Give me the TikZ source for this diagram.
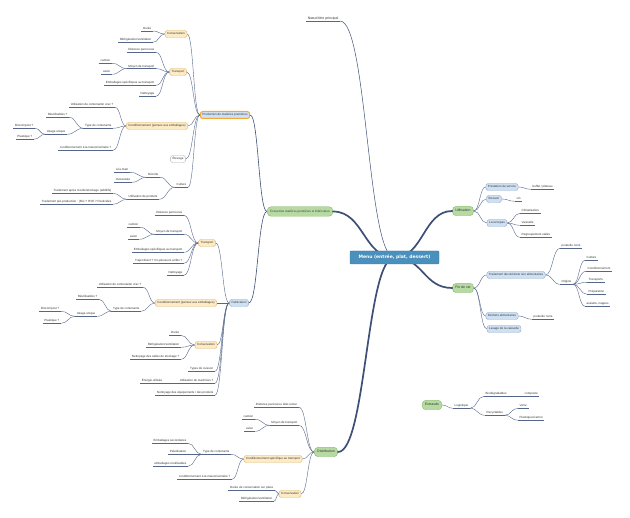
\documentclass[tikz,border=0pt]{standalone}
\usepackage{fontspec}
\setmainfont{Liberation Sans}
\newfontfamily\mmserif{Liberation Serif}
\newfontfamily\mmbold{DejaVu Sans}
\usetikzlibrary{calc}
\definecolor{cnc}{HTML}{56668A}
\definecolor{thk}{HTML}{3E5075}
\definecolor{bluefill}{HTML}{CFE0F3}
\definecolor{blueline}{HTML}{8FAACB}
\definecolor{orfill}{HTML}{FCEBC4}
\definecolor{orline}{HTML}{DDB56B}
\definecolor{grfill}{HTML}{B7DAA3}
\definecolor{grline}{HTML}{86BB6E}
\definecolor{cfill}{HTML}{4A90BC}
\definecolor{cline}{HTML}{3A7AA3}
\definecolor{selor}{HTML}{F2A93B}
\definecolor{txt}{HTML}{333333}
\tikzset{
  base/.style={font=\fontsize{3}{3.6}\selectfont, text=txt},
  uline/.style={draw=cnc, line width=0.35pt},
  leaf/.style={base, inner xsep=1.5pt, inner ysep=0.6pt, text height=2.2pt, text depth=0.7pt,
    append after command={(\tikzlastnode.south west) edge[uline] (\tikzlastnode.south east)}},
  cnline/.style={draw=cnc, line width=0.4pt},
  bluebox/.style={base, draw=blueline, fill=bluefill, rounded corners=2.5pt, line width=0.4pt,
    inner xsep=2.2pt, inner ysep=0pt, minimum height=7pt, text height=2.2pt, text depth=0.7pt},
  orbox/.style={bluebox, draw=orline, fill=orfill},
  grbox/.style={base, font=\fontsize{3.5}{4}\selectfont, draw=grline, fill=grfill, rounded corners=4pt,
    line width=0.4pt, inner xsep=3pt, inner ysep=0pt, minimum height=9.5pt, text height=2.5pt, text depth=0.8pt},
  mainline/.style={draw=thk, line width=1.7pt, line cap=round},
}
\newcommand\mmleafL[4]{\node[leaf,anchor=south east] (#1) at (#2,#3) {#4};}
\newcommand\mmleafR[4]{\node[leaf,anchor=south west] (#1) at (#2,#3) {#4};}
\newcommand\mmconn[3][]{\draw[cnline,#1] let \p1=(#2), \p2=(#3) in (\p1) .. controls ({(\x1+\x2)/2},\y1) and ({(\x1+\x2)/2},\y2) .. (\p2);}
\begin{document}
\begin{tikzpicture}[x=1pt,y=-1pt]
\fill[white] (0,0) rectangle (630,518);
\useasboundingbox (0,0) rectangle (630,518);

% ---------- title
\node[leaf,anchor=south east,font=\fontsize{3.5}{4}\selectfont] (title) at (340,21) {Nœud titre principal};

% ---------- Extraction
\node[grbox, font=\mmserif\fontsize{3.4}{4}\selectfont] (extr) at (300,211.5) {Extraction matières premières et fabrication};

% ---------- Production
\node[bluebox, draw=selor, line width=1pt] (prod) at (225,115) {Production de matières premières};
\node[orbox] (cons1) at (176,34) {Conservation};
\mmleafL{dur1}{153}{31}{Durée}
\mmleafL{ref1}{153}{42.3}{Réfrigération/ventilation}
\node[orbox] (trans1) at (178,72) {Transport};
\mmleafL{dist1}{156}{52.3}{Distance parcourue}
\mmleafL{moy1}{156}{68.6}{Moyen de transport}
\mmleafL{cam1}{112}{63.3}{camion}
\mmleafL{avi1}{112}{74.3}{avion}
\mmleafL{emb1}{156}{85.3}{Emballages spécifiques au transport}
\mmleafL{net1}{156}{96.3}{Nettoyage}
\node[orbox] (cond1) at (157,126) {Conditionnement (pensez aux emballages)};
\mmleafL{vrac1}{115}{107.3}{Utilisation de contenants/ vrac ?}
\mmleafL{typ1}{113}{128.3}{Type de contenants}
\mmleafL{reu1}{69}{117.3}{Réutilisables ?}
\mmleafL{usa1}{67}{134.3}{Usage unique}
\mmleafL{bio1}{35}{128.3}{Biocompost ?}
\mmleafL{pla1}{34}{139.3}{Plastique ?}
\mmleafL{mai1}{113}{150.3}{conditionnement à la maison/unitaire ?}
\node[bluebox, fill=white, draw=gray!60] (elev) at (178,159) {Élevage};
\mmleafL{cul}{188}{187.3}{Culture}
\mmleafL{rec}{160}{177.3}{Récolte}
\mmleafL{amain}{130}{172.3}{à la main}
\mmleafL{mec}{132}{182.3}{mécanisée}
\mmleafL{upr}{159}{199.3}{Utilisation de produits}
\mmleafL{tra1}{113}{193.3}{Traitement après récolte/stockage (additifs)}
\mmleafL{tra2}{113}{204.3}{Traitement pré-production : (Bio ? HVE ? Pesticides}

\mmconn{prod.west}{cons1.east}
\mmconn{prod.west}{trans1.east}
\mmconn{prod.west}{cond1.east}
\mmconn{prod.west}{elev.east}
\mmconn{prod.west}{cul.south east}
\mmconn{cons1.west}{dur1.south east}
\mmconn{cons1.west}{ref1.south east}
\mmconn{trans1.west}{dist1.south east}
\mmconn{trans1.west}{moy1.south east}
\mmconn{trans1.west}{emb1.south east}
\mmconn{trans1.west}{net1.south east}
\mmconn{moy1.south west}{cam1.south east}
\mmconn{moy1.south west}{avi1.south east}
\mmconn{cond1.west}{vrac1.south east}
\mmconn{cond1.west}{typ1.south east}
\mmconn{cond1.west}{mai1.south east}
\mmconn{typ1.south west}{reu1.south east}
\mmconn{typ1.south west}{usa1.south east}
\mmconn{usa1.south west}{bio1.south east}
\mmconn{usa1.south west}{pla1.south east}
\mmconn{cul.south west}{rec.south east}
\mmconn{cul.south west}{upr.south east}
\mmconn{rec.south west}{amain.south east}
\mmconn{rec.south west}{mec.south east}
\mmconn{upr.south west}{tra1.south east}
\mmconn{upr.south west}{tra2.south east}

% ---------- Fabrication
\node[bluebox] (fab) at (239,303) {Fabrication};
\node[orbox] (trans2) at (207,243) {Transport};
\mmleafL{dist2}{184}{215.3}{Distance parcourue}
\mmleafL{moy2}{184}{234.3}{Moyen de transport}
\mmleafL{cam2}{140}{227.3}{camion}
\mmleafL{avi2}{139}{239.3}{avion}
\mmleafL{emb2}{184}{252.3}{Emballages spécifiques au transport}
\mmleafL{traj}{184}{263.3}{Trajet direct ? Ou plusieurs arrêts ?}
\mmleafL{net2}{184}{275.3}{Nettoyage}
\node[orbox] (cond2) at (186,303) {Conditionnement (pensez aux emballages)};
\mmleafL{vrac2}{143}{287.3}{Utilisation de contenants/ vrac ?}
\mmleafL{typ2}{141}{311.3}{Type de contenants}
\mmleafL{reu2}{99}{299.3}{Réutilisables ?}
\mmleafL{usa2}{97}{316.3}{Usage unique}
\mmleafL{bio2}{61}{311.3}{Biocompost ?}
\mmleafL{pla2}{61}{323.3}{Plastique ?}
\node[orbox] (cons2) at (206,345) {Conservation};
\mmleafL{dur2}{181}{335.3}{Durée}
\mmleafL{ref2}{181}{347.3}{Réfrigération/ventilation}
\mmleafL{netsal}{181}{359.3}{Nettoyage des salles de stockage ?}
\mmleafL{cuis}{215}{371.3}{Types de cuisson}
\mmleafL{mach}{215}{383.3}{Utilisation de machines ?}
\mmleafL{ener}{164}{383.3}{Énergie utilisée}
\mmleafL{neteq}{215}{395.3}{Nettoyage des équipements / des produits}

\mmconn{fab.west}{trans2.east}
\mmconn{fab.west}{cond2.east}
\mmconn{fab.west}{cons2.east}
\mmconn{fab.west}{cuis.south east}
\mmconn{fab.west}{mach.south east}
\mmconn{fab.west}{neteq.south east}
\mmconn{trans2.west}{dist2.south east}
\mmconn{trans2.west}{moy2.south east}
\mmconn{trans2.west}{emb2.south east}
\mmconn{trans2.west}{traj.south east}
\mmconn{trans2.west}{net2.south east}
\mmconn{moy2.south west}{cam2.south east}
\mmconn{moy2.south west}{avi2.south east}
\mmconn{cond2.west}{vrac2.south east}
\mmconn{cond2.west}{typ2.south east}
\mmconn{typ2.south west}{reu2.south east}
\mmconn{typ2.south west}{usa2.south east}
\mmconn{usa2.south west}{bio2.south east}
\mmconn{usa2.south west}{pla2.south east}
\mmconn{cons2.west}{dur2.south east}
\mmconn{cons2.west}{ref2.south east}
\mmconn{cons2.west}{netsal.south east}
\mmconn{mach.south west}{ener.south east}

\mmconn[line width=0.6pt,draw=thk]{extr.west}{prod.east}
\mmconn[line width=0.6pt,draw=thk]{extr.west}{fab.east}

% ---------- Distribution
\node[grbox] (dist) at (326,452) {Distribution};
\mmleafL{dist3}{299}{407.3}{Distance parcourue aller-retour}
\mmleafL{moy3}{299}{425.3}{Moyen de transport}
\mmleafL{cam3}{255}{419.3}{camion}
\mmleafL{avi3}{255}{431.3}{avion}
\node[orbox] (cond3) at (273,459) {Conditionnement spécifique au transport};
\mmleafL{typ3}{231}{454.3}{Type de contenants}
\mmleafL{emb3}{188}{443.3}{Emballages secondaires}
\mmleafL{pal}{188}{454.3}{Palettisation}
\mmleafL{embr}{188}{466.3}{emballages réutilisables}
\mmleafL{mai3}{232}{479.3}{conditionnement à la maison/unitaire ?}
\node[orbox] (cons3) at (290,494) {Conservation};
\mmleafL{durc}{275}{490.3}{Durée de conservation sur place}
\mmleafL{ref3}{274}{501.3}{Réfrigération/ventilation}

\mmconn{dist.west}{dist3.south east}
\mmconn{dist.west}{moy3.south east}
\mmconn{dist.west}{cond3.east}
\mmconn{dist.west}{cons3.east}
\mmconn{moy3.south west}{cam3.south east}
\mmconn{moy3.south west}{avi3.south east}
\mmconn{cond3.west}{typ3.south east}
\mmconn{cond3.west}{mai3.south east}
\mmconn{typ3.south west}{emb3.south east}
\mmconn{typ3.south west}{pal.south east}
\mmconn{typ3.south west}{embr.south east}
\mmconn{cons3.west}{durc.south east}
\mmconn{cons3.west}{ref3.south east}

% ---------- Utilisation
\node[grbox] (util) at (463,211) {Utilisation};
\node[bluebox] (prest) at (502,187) {Prestation de service};
\mmleafR{buf}{531}{189.3}{buffet / plateau}
\node[bluebox] (bois) at (494,199) {Boisson};
\mmleafR{vin}{515}{201.3}{vin}
\node[bluebox] (local) at (497,223) {Local repas};
\mmleafR{clim}{520}{213.3}{Climatisation}
\mmleafR{vais}{520}{225.3}{Vaisselle}
\mmleafR{regr}{520}{237.3}{Regroupement salles}
\mmconn{util.east}{prest.west}
\mmconn{util.east}{bois.west}
\mmconn{util.east}{local.west}
\mmconn{prest.east}{buf.south west}
\mmconn{bois.east}{vin.south west}
\mmconn{local.east}{clim.south west}
\mmconn{local.east}{vais.south west}
\mmconn{local.east}{regr.south west}

% ---------- Fin de vie
\node[grbox] (fin) at (463,288) {Fin de vie};
\node[bluebox] (trait) at (516,275) {Traitement des déchets non alimentaires};
\mmleafR{pbn1}{560}{248.3}{poubelle noire}
\mmleafR{orig}{560}{284.3}{Origine}
\mmleafR{cult}{585}{260.3}{Culture}
\mmleafR{condi}{586}{271.3}{Conditionnement}
\mmleafR{transp}{587}{282.3}{Transports}
\mmleafR{prep}{587}{294.3}{Préparation}
\mmleafR{ass}{585}{306.3}{assiette, nappes}
\node[bluebox] (decal) at (502,316) {Déchets alimentaires};
\mmleafR{pbn2}{532}{319.3}{poubelle noire}
\node[bluebox] (lav) at (504,329) {Lavage de la vaisselle};
\mmconn{fin.east}{trait.west}
\mmconn{fin.east}{decal.west}
\mmconn{fin.east}{lav.west}
\mmconn{trait.east}{pbn1.south west}
\mmconn{trait.east}{orig.south west}
\mmconn{orig.south east}{cult.south west}
\mmconn{orig.south east}{condi.south west}
\mmconn{orig.south east}{transp.south west}
\mmconn{orig.south east}{prep.south west}
\mmconn{orig.south east}{ass.south west}
\mmconn{decal.east}{pbn2.south west}

% ---------- Extrasdo
\node[grbox] (extra) at (432,405) {Extrasdo};
\mmleafR{logi}{453}{408.3}{Logistique}
\mmleafR{biod}{484}{396.3}{Biodégradables}
\mmleafR{comp}{523}{396.3}{composte}
\mmleafR{recy}{485}{415.3}{Recyclables}
\mmleafR{verre}{518}{408.3}{Verre}
\mmleafR{plast}{518}{420.3}{Plastiques/carton}
\mmconn{extra.east}{logi.south west}
\mmconn{logi.south east}{biod.south west}
\mmconn{logi.south east}{recy.south west}
\mmconn{biod.south east}{comp.south west}
\mmconn{recy.south east}{verre.south west}
\mmconn{recy.south east}{plast.south west}

% ---------- main branches
\coordinate (mc) at (394.5,257.5);
\mmconn[line width=0.5pt,draw=thk]{title.south east}{mc}
\mmconn[mainline]{mc}{extr.east}
\mmconn[mainline]{mc}{util.west}
\mmconn[mainline]{mc}{fin.west}
\mmconn[mainline]{mc}{dist.east}

\node[draw=cline, fill=cfill, text=white, font=\mmbold\bfseries\fontsize{4.5}{5}\selectfont,
  minimum width=89pt, minimum height=13pt, inner sep=0pt, rounded corners=1pt] (menu) at (mc) {Menu (entrée, plat, dessert)};
\end{tikzpicture}
\end{document}
